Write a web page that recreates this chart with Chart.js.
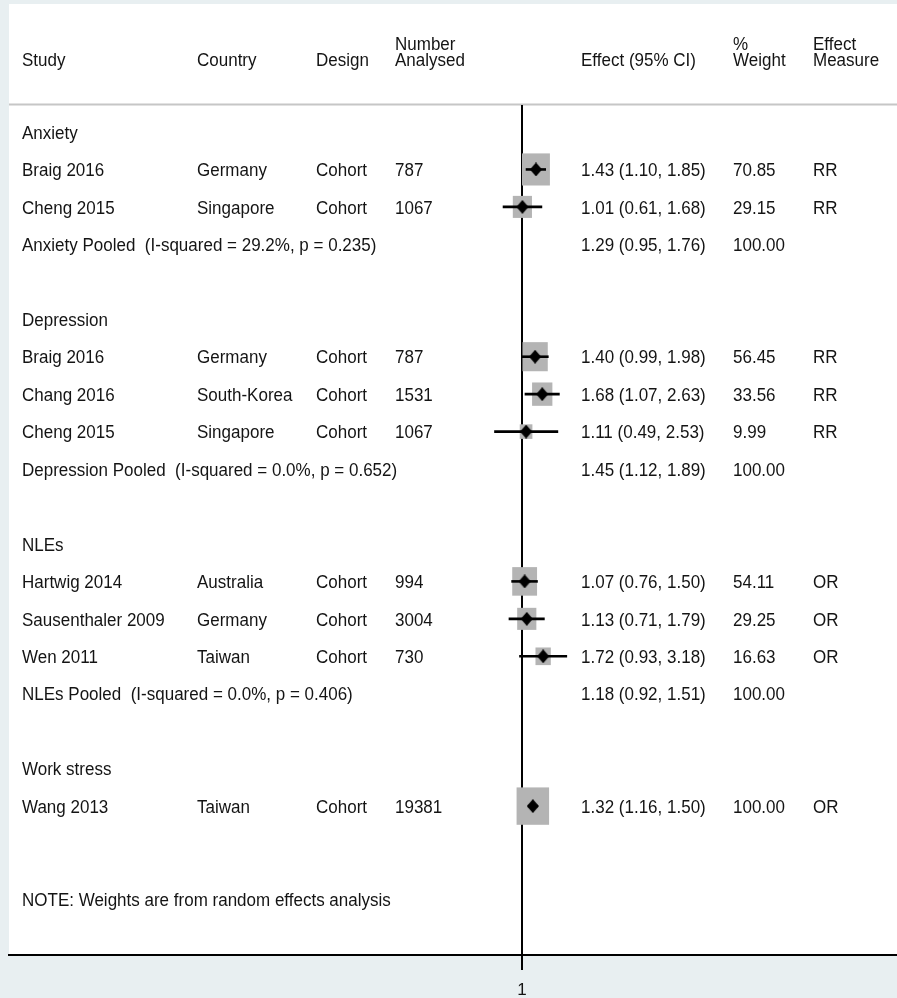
<!DOCTYPE html>
<html>
<head>
<meta charset="utf-8">
<script src="https://cdn.jsdelivr.net/npm/chart.js@4.4.0/dist/chart.umd.min.js"></script>
<style>
  html, body { margin: 0; padding: 0; background: #e8eff1; }
  #wrap { position: relative; width: 897px; height: 998px; }
</style>
</head>
<body>
<div id="wrap"><canvas id="forest"></canvas></div>
<script>
// ---- data ----
const groupNames = ["Anxiety", "Depression", "NLEs", "Work stress"];
const studyNames = ["Braig 2016", "Cheng 2015", "Braig 2016", "Chang 2016", "Cheng 2015",
                    "Hartwig 2014", "Sausenthaler 2009", "Wen 2011", "Wang 2013"];
const studyGroup = [0, 0, 1, 1, 1, 2, 2, 2, 3];
const countries = ["Germany", "Singapore", "Germany", "South-Korea", "Singapore",
                   "Australia", "Germany", "Taiwan", "Taiwan"];
const designs = ["Cohort", "Cohort", "Cohort", "Cohort", "Cohort",
                 "Cohort", "Cohort", "Cohort", "Cohort"];
const numbersAnalysed = [787, 1067, 787, 1531, 1067, 994, 3004, 730, 19381];
const effects = [1.43, 1.01, 1.40, 1.68, 1.11, 1.07, 1.13, 1.72, 1.32];
const lowerCI = [1.10, 0.61, 0.99, 1.07, 0.49, 0.76, 0.71, 0.93, 1.16];
const upperCI = [1.85, 1.68, 1.98, 2.63, 2.53, 1.50, 1.79, 3.18, 1.50];
const weights = [70.85, 29.15, 56.45, 33.56, 9.99, 54.11, 29.25, 16.63, 100.00];
const effectMeasures = ["RR", "RR", "RR", "RR", "RR", "OR", "OR", "OR", "OR"];
const pooledHeterogeneity = ["I-squared = 29.2%, p = 0.235", "I-squared = 0.0%, p = 0.652",
                             "I-squared = 0.0%, p = 0.406", null];
const pooledEffects = [1.29, 1.45, 1.18, null];
const pooledLower = [0.95, 1.12, 0.92, null];
const pooledUpper = [1.76, 1.89, 1.51, null];
const xTickValues = [1];
const noteText = "NOTE: Weights are from random effects analysis";

// ---- row layout: group heading, studies, pooled line, blank ----
const rows = [];
const studyRow = [];
let r = 0;
groupNames.forEach((g, gi) => {
  rows.push({ kind: "group", row: r++, gi });
  studyNames.forEach((s, i) => {
    if (studyGroup[i] === gi) { studyRow[i] = r; rows.push({ kind: "study", row: r++, i }); }
  });
  if (pooledEffects[gi] !== null) rows.push({ kind: "pooled", row: r++, gi });
  r++;
});
const noteRow = r + 0.5;

// ---- geometry ----
const W = 897, H = 998;
const panelLeft = 9, panelTop = 4, plotTop = 105, axisY = 955;
const refPx = 522, pxPerLn = 39;        // x = 1 sits at refPx, log scale
const firstRowPx = 132, rowPx = 37.45;
const xMin = Math.exp(-(refPx - panelLeft) / pxPerLn);
const xMax = Math.exp((W - refPx) / pxPerLn);
const yMin = (plotTop - firstRowPx) / rowPx;
const yMax = (axisY - firstRowPx) / rowPx;
const col = { study: 22, country: 197, design: 316, number: 395, effect: 581, weight: 733, measure: 813 };
const FONT = '17px "Liberation Sans", Arial, sans-serif';
const TEXT = "#141414";
const yStretch = 1.1;

function txt(ctx, s, x, baseY) {
  ctx.save();
  ctx.translate(x, baseY);
  ctx.scale(1, yStretch);
  ctx.fillText(s, 0, 0);
  ctx.restore();
}
const f2 = v => v.toFixed(2);
const ciText = (e, lo, hi) => `${f2(e)} (${f2(lo)}, ${f2(hi)})`;

// point marker: slightly tall black diamond
const diamond = document.createElement("canvas");
diamond.width = 12; diamond.height = 14;
(() => {
  const c = diamond.getContext("2d");
  c.fillStyle = "#000";
  c.beginPath();
  c.moveTo(6, 0); c.lineTo(12, 7); c.lineTo(6, 14); c.lineTo(0, 7);
  c.closePath();
  c.fill();
})();

const forestPlugin = {
  id: "forestTable",
  beforeDraw(chart) {
    const ctx = chart.ctx;
    ctx.save();
    ctx.fillStyle = "#e8eff1";
    ctx.fillRect(0, 0, W, H);
    ctx.fillStyle = "#ffffff";
    ctx.fillRect(panelLeft, panelTop, W - panelLeft, axisY - panelTop);
    // header rule
    ctx.fillStyle = "#c6c6c6";
    ctx.fillRect(panelLeft, 103.5, W - panelLeft, 2);
    // header text
    ctx.fillStyle = TEXT;
    ctx.font = FONT;
    ctx.textBaseline = "alphabetic";
    const l1 = 49.5, l2 = 66;
    txt(ctx, "Study", col.study, l2);
    txt(ctx, "Country", col.country, l2);
    txt(ctx, "Design", col.design, l2);
    txt(ctx, "Number", col.number, l1);
    txt(ctx, "Analysed", col.number, l2);
    txt(ctx, "Effect (95% CI)", col.effect, l2);
    txt(ctx, "%", col.weight, l1);
    txt(ctx, "Weight", col.weight, l2);
    txt(ctx, "Effect", col.measure, l1);
    txt(ctx, "Measure", col.measure, l2);
    ctx.restore();
  },
  beforeDatasetsDraw(chart) {
    // weight boxes, area following study weight
    const ctx = chart.ctx, xs = chart.scales.x, ys = chart.scales.y;
    ctx.save();
    ctx.fillStyle = "#b4b4b4";
    effects.forEach((e, i) => {
      const w = 2.9 * Math.sqrt(weights[i]) + 3.5;
      const h = w * 1.15;
      const cx = xs.getPixelForValue(e), cy = ys.getPixelForValue(studyRow[i]);
      ctx.fillRect(cx - w / 2, cy - h / 2, w, h);
    });
    ctx.restore();
  },
  afterDraw(chart) {
    const ctx = chart.ctx, ys = chart.scales.y;
    ctx.save();
    ctx.fillStyle = TEXT;
    ctx.font = FONT;
    ctx.textBaseline = "alphabetic";
    const off = 6.7;
    rows.forEach(row => {
      const y = ys.getPixelForValue(row.row) + off;
      if (row.kind === "group") {
        txt(ctx, groupNames[row.gi], col.study, y);
      } else if (row.kind === "study") {
        const i = row.i;
        txt(ctx, studyNames[i], col.study, y);
        txt(ctx, countries[i], col.country, y);
        txt(ctx, designs[i], col.design, y);
        txt(ctx, String(numbersAnalysed[i]), col.number, y);
        txt(ctx, ciText(effects[i], lowerCI[i], upperCI[i]), col.effect, y);
        txt(ctx, f2(weights[i]), col.weight, y);
        txt(ctx, effectMeasures[i], col.measure, y);
      } else {
        const gi = row.gi;
        txt(ctx, `${groupNames[gi]} Pooled  (${pooledHeterogeneity[gi]})`, col.study, y);
        txt(ctx, ciText(pooledEffects[gi], pooledLower[gi], pooledUpper[gi]), col.effect, y);
        txt(ctx, "100.00", col.weight, y);
      }
    });
    txt(ctx, noteText, col.study, ys.getPixelForValue(noteRow) + off);
    ctx.restore();
  }
};

const datasets = [];
datasets.push({
  label: "Estimate",
  data: effects.map((e, i) => ({ x: e, y: studyRow[i] })),
  pointStyle: diamond,
  pointRadius: 6,
  pointHoverRadius: 6,
  backgroundColor: "#000",
  borderWidth: 0,
  showLine: false
});
effects.forEach((e, i) => {
  datasets.push({
    label: "CI " + studyNames[i],
    data: [{ x: lowerCI[i], y: studyRow[i] }, { x: upperCI[i], y: studyRow[i] }],
    showLine: true,
    borderColor: "#000",
    borderWidth: 2.6,
    pointRadius: 0,
    pointHoverRadius: 0
  });
});

new Chart(document.getElementById("forest"), {
  type: "scatter",
  data: { datasets },
  plugins: [forestPlugin],
  options: {
    responsive: true,
    maintainAspectRatio: false,
    devicePixelRatio: 1,
    animation: false,
    events: [],
    layout: { autoPadding: false, padding: { left: panelLeft, top: plotTop, right: 0, bottom: 0 } },
    plugins: { legend: { display: false }, tooltip: { enabled: false } },
    scales: {
      x: {
        type: "logarithmic",
        position: "bottom",
        min: xMin,
        max: xMax,
        bounds: "data",
        afterBuildTicks: s => { s.ticks = xTickValues.map(v => ({ value: v })); },
        afterFit: s => { s.height = H - axisY; s.paddingLeft = 0; s.paddingRight = 0; },
        grid: { color: "#000", lineWidth: 2, drawOnChartArea: true, drawTicks: true, tickLength: 15, tickColor: "#000", tickWidth: 2 },
        border: { display: true, color: "#000", width: 2 },
        ticks: {
          autoSkip: false,
          maxRotation: 0,
          padding: 10,
          color: TEXT,
          font: { family: '"Liberation Sans", Arial, sans-serif', size: 17 },
          callback: v => String(v)
        }
      },
      y: {
        type: "linear",
        reverse: true,
        min: yMin,
        max: yMax,
        bounds: "data",
        display: false
      }
    }
  }
});
</script>
</body>
</html>
